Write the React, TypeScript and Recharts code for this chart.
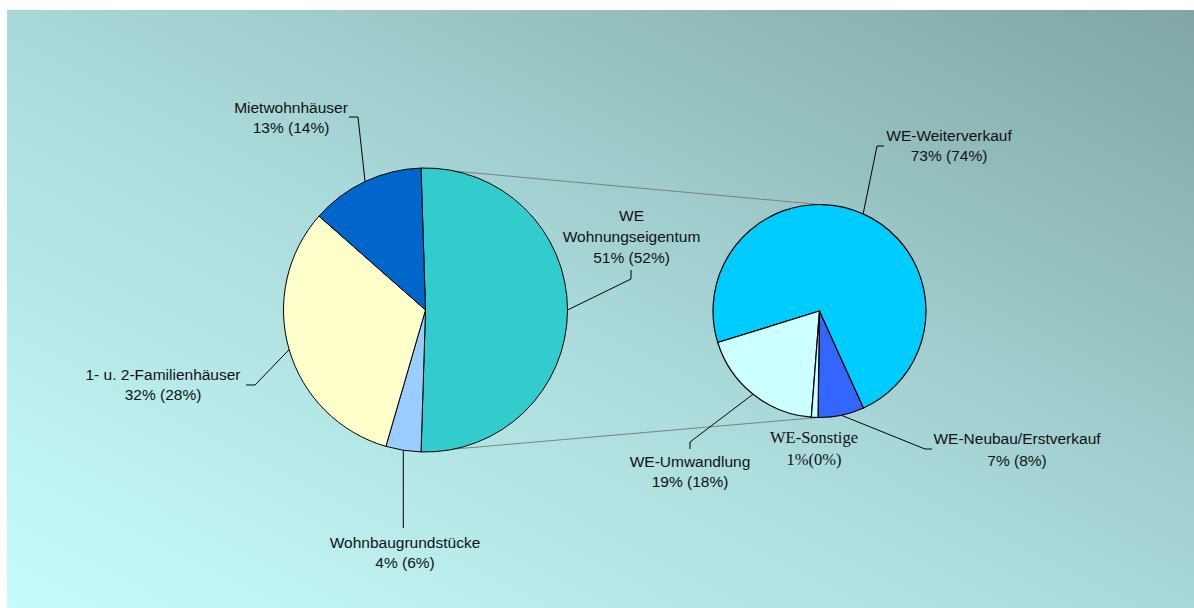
import { PieChart, Pie, Cell, Customized } from 'recharts';

// Hauptkreis: Anteile am Gesamtumsatz (Vorjahr in Klammern)
const mainCategories = ['WE\nWohnungseigentum', 'Wohnbaugrundstücke', '1- u. 2-Familienhäuser', 'Mietwohnhäuser'];
const mainShares = [51, 4, 32, 13];
const mainPrevShares = [52, 6, 28, 14];
const mainColors = ['#33CCCC', '#99CCFF', '#FFFFCC', '#0066CC'];

// Aufteilung Wohnungseigentum
const weCategories = ['WE-Neubau/Erstverkauf', 'WE-Weiterverkauf', 'WE-Umwandlung', 'WE-Sonstige'];
const weShares = [7, 73, 19, 1];
const wePrevShares = [8, 74, 18, 0];
const weColors = ['#3366FF', '#00CCFF', '#CCFFFF', '#CCFFFF'];

const WIDTH = 1187;
const HEIGHT = 598;
const OX = 7;
const OY = 10;

const MAIN = { cx: 425.5 - OX, cy: 310 - OY, r: 142 };
const SUB = { cx: 819.5 - OX, cy: 311 - OY, r: 106.5 };

// WE-Segment symmetrisch um 0° (rechts) zentrieren
const mainStart = 90 + ((mainShares[0] / 100) * 360 - 180) / 2;
const subStart = -90.8;

const FONT = '"Liberation Sans", Arial, sans-serif';
const SERIF = '"Liberation Serif", "Times New Roman", serif';
const FS = 15.5;

type LabelLayout = {
  x: number;
  y: number;
  lineGap: number;
  leader?: [number, number][];
  serif?: boolean;
};

// Beschriftungspositionen (Seitenkoordinaten)
const mainLayout: LabelLayout[] = [
  { x: 631.5, y: 215, lineGap: 21, leader: [[631, 279], [631, 270]] },
  { x: 405, y: 542, lineGap: 20, leader: [[403.3, 528]] },
  { x: 163, y: 374, lineGap: 20, leader: [[255, 385], [246, 385]] },
  { x: 291, y: 107, lineGap: 20, leader: [[358, 117], [349, 117]] },
];

const subLayout: LabelLayout[] = [
  { x: 1017, y: 438, lineGap: 22, leader: [[925, 449], [932, 449]] },
  { x: 949, y: 135, lineGap: 20, leader: [[877, 146], [884, 146]] },
  { x: 690, y: 461, lineGap: 20, leader: [[690, 442], [690, 449]] },
  { x: 814, y: 437, lineGap: 22, serif: true },
];

const RAD = Math.PI / 180;
const polar = (cx: number, cy: number, r: number, a: number) => [cx + r * Math.cos(-a * RAD), cy + r * Math.sin(-a * RAD)];

const mainData = mainCategories.map((name, i) => ({ name, value: mainShares[i], prev: mainPrevShares[i] }));
const subData = weCategories.map((name, i) => ({ name, value: weShares[i], prev: wePrevShares[i] }));

function makeLabel(layout: LabelLayout[], data: { name: string; value: number; prev: number }[]) {
  return (props: any) => {
    const { cx, cy, outerRadius, midAngle, index } = props;
    const item = data[index];
    const l = layout[index];
    const [ex, ey] = polar(cx, cy, outerRadius, midAngle);
    const pts = l.leader ? [[ex, ey], ...l.leader.map(([px, py]) => [px - OX, py - OY])] : [];
    const pctText = l.serif ? `${item.value}%(${item.prev}%)` : `${item.value}% (${item.prev}%)`;
    const lines = [...item.name.split('\n'), pctText];
    const fs = l.serif ? 16.5 : FS;
    return (
      <g key={`lbl-${index}`}>
        {pts.length > 0 && (
          <polyline points={pts.map((p) => p.join(',')).join(' ')} fill="none" stroke="#000" strokeWidth={1} />
        )}
        {lines.map((t, k) => (
          <text
            key={k}
            x={l.x - OX}
            y={l.y - OY + k * l.lineGap + fs * 0.36}
            textAnchor="middle"
            fontFamily={l.serif ? SERIF : FONT}
            fontSize={fs}
            fill="#111"
          >
            {t}
          </text>
        ))}
      </g>
    );
  };
}

// Verbindungslinien zwischen Haupt- und Nebenkreis
function Connectors() {
  const weSweep = (mainShares[0] / 100) * 360;
  const [x1, y1] = polar(MAIN.cx, MAIN.cy, MAIN.r, mainStart);
  const [x2, y2] = polar(SUB.cx, SUB.cy, SUB.r, 90);
  const [x3, y3] = polar(MAIN.cx, MAIN.cy, MAIN.r, mainStart - weSweep);
  const [x4, y4] = polar(SUB.cx, SUB.cy, SUB.r, subStart);
  return (
    <g>
      <line x1={x1} y1={y1} x2={x2} y2={y2} stroke="#7F7F7F" strokeWidth={1} />
      <line x1={x3} y1={y3} x2={x4} y2={y4} stroke="#7F7F7F" strokeWidth={1} />
    </g>
  );
}

export default function App() {
  return (
    <div
      style={{
        position: 'fixed',
        left: OX,
        top: OY,
        right: 0,
        bottom: 0,
        overflow: 'hidden',
        background: 'linear-gradient(to top right, #C8FCFC 0%, #A9D8D8 50%, #80A6A6 100%)',
      }}
    >
      <PieChart width={WIDTH} height={HEIGHT} margin={{ top: 0, right: 0, bottom: 0, left: 0 }}>
        <Customized component={Connectors} />
        <Pie
          data={mainData}
          dataKey="value"
          cx={MAIN.cx}
          cy={MAIN.cy}
          outerRadius={MAIN.r}
          startAngle={mainStart}
          endAngle={mainStart - 360}
          stroke="#000"
          strokeWidth={1}
          labelLine={false}
          label={makeLabel(mainLayout, mainData)}
          isAnimationActive={false}
        >
          {mainData.map((_, i) => (
            <Cell key={`m-${i}`} fill={mainColors[i]} />
          ))}
        </Pie>
        <Pie
          data={subData}
          dataKey="value"
          cx={SUB.cx}
          cy={SUB.cy}
          outerRadius={SUB.r}
          startAngle={subStart}
          endAngle={subStart + 360}
          stroke="#000"
          strokeWidth={1.2}
          labelLine={false}
          label={makeLabel(subLayout, subData)}
          isAnimationActive={false}
        >
          {subData.map((_, i) => (
            <Cell key={`s-${i}`} fill={weColors[i]} />
          ))}
        </Pie>
      </PieChart>
    </div>
  );
}
